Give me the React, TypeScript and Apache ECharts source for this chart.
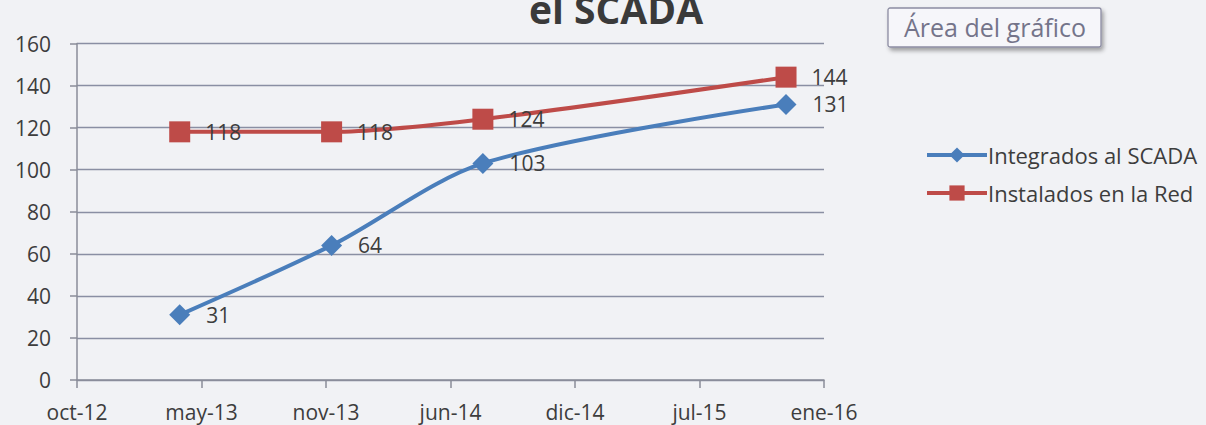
import React, { useEffect, useRef } from "react";
import * as echarts from "echarts";

// Dates of each reading (ISO) and values
const dates = ["2013-04-01", "2013-12-01", "2014-08-01", "2015-12-01"];
const integrados = [31, 64, 103, 131];
const instalados = [118, 118, 124, 144];
const seriesNames = ["Integrados al SCADA", "Instalados en la Red"];
const monthNames = ["ene", "feb", "mar", "abr", "may", "jun", "jul", "ago", "sep", "oct", "nov", "dic"];

// Axis bounds as Excel date serials
const xMin = 41200;
const xMax = 42400;
const xStep = 200;

const EXCEL_EPOCH = Date.UTC(1899, 11, 30);
const toSerial = (iso: string) => Math.round((Date.parse(iso + "T00:00:00Z") - EXCEL_EPOCH) / 86400000);
const fmtSerial = (v: number) => {
  const d = new Date(EXCEL_EPOCH + v * 86400000);
  return monthNames[d.getUTCMonth()] + "-" + String(d.getUTCFullYear()).slice(2);
};

const FONT = "'Open Sans', sans-serif";
const TXT = "#3d3d3d";

export default function App() {
  const ref = useRef<HTMLDivElement>(null);
  useEffect(() => {
    if (!ref.current) return;
    const chart = echarts.init(ref.current, undefined, { renderer: "svg" });
    const mk = (vals: number[]) => dates.map((d, i) => [toSerial(d), vals[i]]);
    chart.setOption({
      animation: false,
      backgroundColor: "#f1f2f5",
      textStyle: { fontFamily: FONT },
      grid: { left: 77, right: 382, top: 43.5, bottom: 45, containLabel: false },
      xAxis: {
        type: "value",
        min: xMin,
        max: xMax,
        interval: xStep,
        axisLine: { show: true, lineStyle: { color: "#8a8d99", width: 1.5 } },
        axisTick: { show: true, length: 8, lineStyle: { color: "#8a8d99", width: 1.5 } },
        splitLine: { show: false },
        axisLabel: { formatter: (v: number) => fmtSerial(v), fontSize: 21, color: TXT, margin: 21, fontFamily: FONT },
      },
      yAxis: {
        type: "value",
        min: 0,
        max: 160,
        interval: 20,
        axisLine: { show: true, lineStyle: { color: "#8a8d99", width: 1.5 } },
        axisTick: { show: true, length: 7, lineStyle: { color: "#8a8d99", width: 1.5 } },
        splitLine: { show: true, lineStyle: { color: "#8a8fa3", width: 1.3 } },
        axisLabel: { fontSize: 21, color: TXT, margin: 26, fontFamily: FONT },
      },
      legend: {
        orient: "vertical",
        left: 920,
        top: 139,
        itemWidth: 60,
        itemHeight: 19,
        itemGap: 16,
        lineStyle: { width: 4 },
        textStyle: { fontSize: 22, color: TXT, fontFamily: FONT, padding: [0, 0, 0, -4] },
        data: seriesNames,
      },
      series: [
        {
          name: seriesNames[0],
          type: "line",
          data: mk(integrados),
          smooth: 0.3,
          symbol: "diamond",
          symbolSize: 21,
          lineStyle: { color: "#4a7ebb", width: 4 },
          itemStyle: { color: "#4a7ebb" },
          label: { show: true, position: "right", distance: 16, fontSize: 21, color: TXT, fontFamily: FONT },
        },
        {
          name: seriesNames[1],
          type: "line",
          data: mk(instalados),
          smooth: 0.3,
          symbol: "rect",
          symbolSize: 21,
          lineStyle: { color: "#be4b48", width: 4 },
          itemStyle: { color: "#be4b48" },
          label: { show: true, position: "right", distance: 15, fontSize: 21, color: TXT, fontFamily: FONT },
        },
      ],
      graphic: [
        {
          type: "text",
          x: 616,
          y: 8,
          style: {
            text: "el SCADA",
            align: "center",
            verticalAlign: "middle",
            fontSize: 39,
            fontWeight: "bold",
            fontFamily: FONT,
            fill: "#3a3a3a",
          },
        },
        {
          type: "group",
          x: 888,
          y: 8,
          children: [
            {
              type: "rect",
              shape: { x: 0, y: 0, width: 213, height: 39, r: 2 },
              style: {
                fill: "#f6f6fa",
                stroke: "#8c8ca2",
                lineWidth: 1.3,
                shadowBlur: 4,
                shadowOffsetX: 2,
                shadowOffsetY: 3,
                shadowColor: "rgba(0,0,0,0.35)",
              },
            },
            {
              type: "text",
              x: 107,
              y: 19,
              style: {
                text: "Área del gráfico",
                align: "center",
                verticalAlign: "middle",
                fontSize: 25,
                fontFamily: FONT,
                fill: "#74748a",
              },
            },
          ],
        },
      ],
    });
    return () => chart.dispose();
  }, []);
  return <div ref={ref} style={{ width: 1206, height: 425, position: "absolute", left: 0, top: 0 }} />;
}
